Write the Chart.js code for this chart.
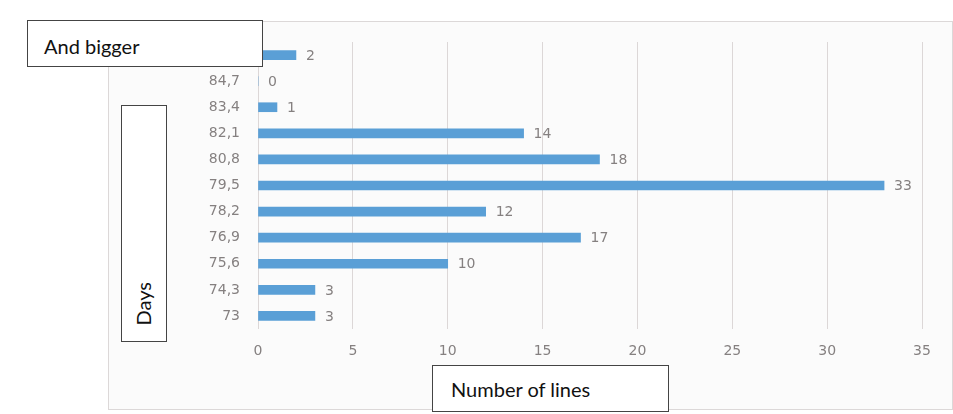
<!DOCTYPE html>
<html>
<head>
<meta charset="utf-8">
<script src="https://cdn.jsdelivr.net/npm/chart.js@4"></script>
<style>
  body { margin: 0; background: #fff; }
  #wrap { position: relative; width: 953px; height: 414px; overflow: hidden; }
  #frame { position: absolute; left: 108px; top: 21px; width: 843px; height: 387px;
           border: 1px solid #dcd8d8; background: #fbfbfb; }
  canvas { position: absolute; left: 0; top: 0; }
  .box { position: absolute; background: #fff; border: 1.5px solid #444; box-sizing: border-box;
         font-family: Lato, "Open Sans", sans-serif; font-size: 20px; color: #111; }
  #bigger { left: 27px; top: 20px; width: 236px; height: 47px; padding: 13px 0 0 16px; }
  #lines { left: 432px; top: 365px; width: 237px; height: 47px; padding: 11px 0 0 18px; }
  #days { left: 121px; top: 105px; width: 46px; height: 237px; }
  #days span { position: absolute; left: 9px; bottom: 16px; writing-mode: vertical-rl; transform: rotate(180deg); }
</style>
</head>
<body>
<div id="wrap">
  <div id="frame"></div>
  <canvas id="chart" width="953" height="414"></canvas>
  <div class="box" id="bigger">And bigger</div>
  <div class="box" id="days"><span>Days</span></div>
  <div class="box" id="lines">Number of lines</div>
</div>
<script>
const days = ['And bigger', '84,7', '83,4', '82,1', '80,8', '79,5', '78,2', '76,9', '75,6', '74,3', '73'];
const lineCounts = [2, 0, 1, 14, 18, 33, 12, 17, 10, 3, 3];
const xTicks = [0, 5, 10, 15, 20, 25, 30, 35];

const grayText = '#858080';

// value labels to the right of each bar
const barLabels = {
  id: 'barLabels',
  afterDatasetsDraw(chart) {
    const ctx = chart.ctx;
    const meta = chart.getDatasetMeta(0);
    ctx.save();
    ctx.font = '14px "DejaVu Sans"';
    ctx.fillStyle = grayText;
    ctx.textBaseline = 'middle';
    meta.data.forEach((bar, i) => {
      ctx.fillText(String(lineCounts[i]), bar.x + 10, bar.y + 1);
    });
    ctx.restore();
  }
};

new Chart(document.getElementById('chart'), {
  type: 'bar',
  data: {
    labels: days,
    datasets: [{
      data: lineCounts,
      backgroundColor: '#5a9fd6',
      barThickness: 9,
      categoryPercentage: 1
    }]
  },
  options: {
    indexAxis: 'y',
    responsive: false,
    animation: false,
    layout: { padding: { top: 42, right: 31, left: 0, bottom: 0 } },
    plugins: { legend: { display: false }, tooltip: { enabled: false } },
    scales: {
      x: {
        min: 0,
        max: 35,
        afterBuildTicks(scale) { scale.ticks = xTicks.map(v => ({ value: v })); },
        afterFit(scale) { scale.height = 85; },
        grid: { color: '#dcd7d7', drawTicks: false },
        border: { display: false },
        ticks: { color: grayText, padding: 14, font: { family: 'DejaVu Sans', size: 14 } }
      },
      y: {
        afterFit(scale) { scale.width = 258; },
        grid: { display: false, drawTicks: false },
        border: { display: false },
        ticks: {
          color: grayText,
          padding: 18,
          font: { family: 'DejaVu Sans', size: 14 },
          callback(v, i) { return i === 0 ? '' : days[i]; }
        }
      }
    }
  },
  plugins: [barLabels]
});
</script>
</body>
</html>
